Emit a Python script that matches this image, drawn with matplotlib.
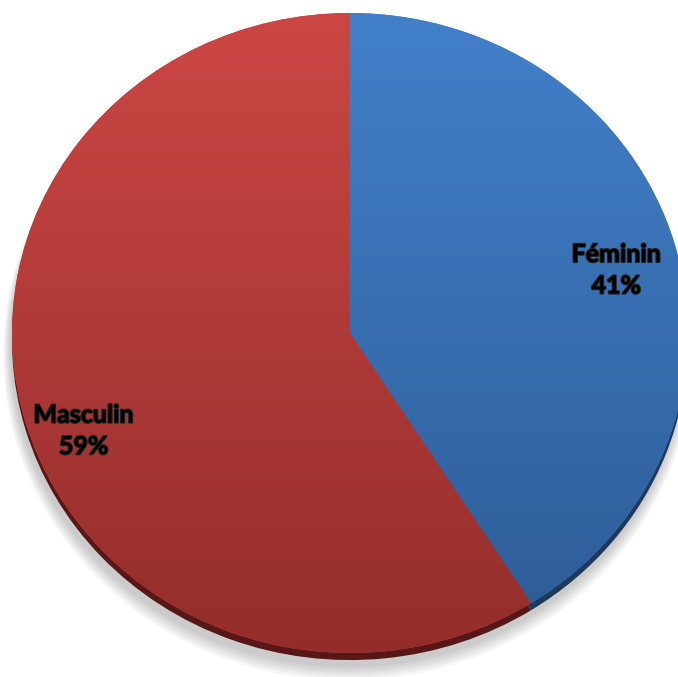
import numpy as np
from matplotlib import pyplot as plt
from matplotlib.colors import LinearSegmentedColormap
import matplotlib.patheffects as pe

labels = ["Féminin", "Masculin"]
shares = [41, 59]
top_colors = ["#4280ca", "#cc4744"]
bottom_colors = ["#2d5b96", "#932d2b"]
depth_colors = ["#1d3a5e", "#561716"]

fig = plt.figure(figsize=(6.78, 6.77), dpi=100)
ax = fig.add_axes([0, 0, 1, 1])
ax.set_aspect('auto')

# shadow and side of the 3d disc
for k in range(6):
    ax.pie(shares, startangle=90, counterclock=False, radius=1.0 + 0.004 * k,
           center=(-0.006, -0.045 - 0.004 * k),
           colors=["#000000"] * 2, wedgeprops=dict(alpha=0.035, linewidth=0))
ax.pie(shares, startangle=90, counterclock=False, center=(0, -0.022),
       colors=depth_colors, wedgeprops=dict(linewidth=0))

wedges, texts = ax.pie(shares, labels=[f"{l}\n{s}%" for l, s in zip(labels, shares)],
                       startangle=90, counterclock=False, labeldistance=0.81,
                       colors=top_colors, wedgeprops=dict(linewidth=0),
                       textprops=dict(fontsize=18, fontweight='bold', family='Lato',
                                      ha='center', va='center', linespacing=1.45))

grad = np.linspace(0, 1, 256).reshape(-1, 1)
for w, c0, c1 in zip(wedges, top_colors, bottom_colors):
    cmap = LinearSegmentedColormap.from_list("g", [c0, c1])
    im = ax.imshow(grad, cmap=cmap, extent=(-1, 1, -1, 1), origin='upper',
                   aspect='auto', zorder=w.get_zorder() + 0.1)
    im.set_clip_path(w)

for t in texts:
    t.set_zorder(10)
    t.set_path_effects([pe.withStroke(linewidth=1.5, foreground="#222222")])
x, y = texts[0].get_position()
texts[0].set_position((x + 0.01, y - 0.03))
x, y = texts[1].get_position()
texts[1].set_position((x - 0.01, y - 0.08))

ax.set_xlim(-350 / 338, 328 / 338)
ax.set_ylim(-344 / 320, 333 / 320)
ax.axis('off')
fig.savefig("out.png", dpi=100)
plt.close(fig)
